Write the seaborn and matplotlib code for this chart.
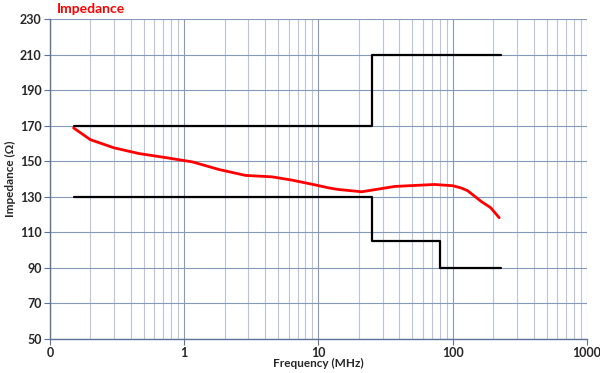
import numpy as np
import pandas as pd
import seaborn as sns
import matplotlib.pyplot as plt
from matplotlib.ticker import FixedLocator, FixedFormatter, LogLocator, NullFormatter

# Limit lines (step shape given by repeated frequencies)
upper_freq = [0.15, 25, 25, 230]
upper_imp = [170, 170, 210, 210]
lower_freq = [0.15, 25, 25, 80, 80, 230]
lower_imp = [130, 130, 105, 105, 90, 90]

# Measured impedance curve
meas_freq = [0.15, 0.2, 0.3, 0.46, 0.73, 1.15, 1.82, 2.86, 4.5, 6.3, 9.0, 11.9, 14, 21, 37, 73, 100, 115, 129, 144, 162, 192, 222]
meas_imp = [168.7, 162.1, 157.5, 154.3, 152.0, 149.6, 145.3, 142.0, 141.2, 139.4, 137.0, 135.0, 134.1, 132.8, 135.8, 136.9, 136.2, 135.0, 133.4, 130.6, 127.5, 123.8, 118.2]

x_ticks = [0.1, 1, 10, 100, 1000]
x_labels = ['0', '1', '10', '100', '1000']
y_ticks = list(range(50, 231, 20))

sns.set_theme(style="white")
plt.rcParams['font.family'] = ['Lato', 'DejaVu Sans']

upper = pd.DataFrame({"Frequency": upper_freq, "Impedance": upper_imp})
lower = pd.DataFrame({"Frequency": lower_freq, "Impedance": lower_imp})
meas = pd.DataFrame({"Frequency": meas_freq, "Impedance": meas_imp})

fig = plt.figure(figsize=(6, 3.73), dpi=100)
ax = fig.add_axes([0.0833, 0.0912, 0.895, 0.858])

sns.lineplot(data=upper, x="Frequency", y="Impedance", color="black", lw=1.6,
             sort=False, estimator=None, ax=ax)
sns.lineplot(data=lower, x="Frequency", y="Impedance", color="black", lw=1.6,
             sort=False, estimator=None, ax=ax)
sns.lineplot(data=meas, x="Frequency", y="Impedance", color="#FF0000", lw=2.0,
             sort=False, estimator=None, ax=ax)

ax.set_xscale("log")
ax.set_xlim(0.1, 1000)
ax.set_ylim(50, 230)

ax.xaxis.set_major_locator(FixedLocator(x_ticks))
ax.xaxis.set_major_formatter(FixedFormatter(x_labels))
ax.xaxis.set_minor_locator(LogLocator(base=10, subs=np.arange(2, 10)))
ax.xaxis.set_minor_formatter(NullFormatter())
ax.set_yticks(y_ticks)

ax.grid(True, which="major", color="#8699BA", lw=0.8)
ax.grid(True, which="minor", axis="x", color="#B8C5DB", lw=0.8)
ax.set_axisbelow(True)

for side in ["top", "right"]:
    ax.spines[side].set_visible(False)
for side in ["left", "bottom"]:
    ax.spines[side].set_color("#5E7399")
    ax.spines[side].set_linewidth(1.0)

ax.tick_params(axis="both", which="major", direction="out", length=4, width=0.8,
               color="#5E7399", labelsize=9, pad=2, bottom=True, left=True)
ax.tick_params(axis="x", which="minor", length=0)
for lbl in ax.get_xticklabels() + ax.get_yticklabels():
    lbl.set_fontweight("bold")

ax.set_xlabel("Frequency (MHz)", fontsize=8.5, fontweight="bold", labelpad=-1)
ax.set_ylabel("Impedance (Ω)", fontsize=8.5, fontweight="bold", labelpad=3)
fig.text(0.095, 0.975, "Impedance", color="#FF0000", fontsize=10, fontweight="bold", va="center", ha="left")

plt.savefig("out.png", dpi=100)
plt.close()
